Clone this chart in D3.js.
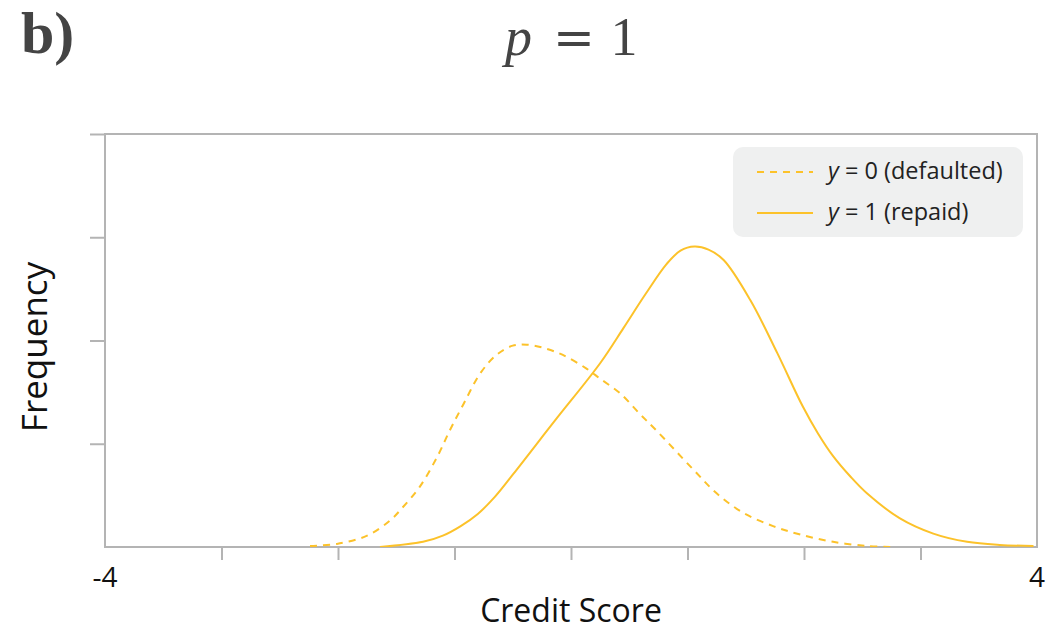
<!DOCTYPE html>
<html>
<head>
<meta charset="utf-8">
<script src="https://cdn.jsdelivr.net/npm/d3@7"></script>
<style>
  html, body { margin: 0; padding: 0; background: #fff; }
  svg { display: block; }
</style>
</head>
<body>
<svg id="chart" width="1048" height="633"></svg>
<script>
// Score densities for the two outcome groups (frequency in arbitrary units)
const defaultedScore = [-2.24, -2.01, -1.75, -1.55, -1.44, -1.30, -1.15, -1.04, -0.92, -0.78, -0.64, -0.50, -0.38, -0.24, -0.07, 0.13, 0.25, 0.42, 0.59, 0.74, 1.05, 1.25, 1.48, 1.74, 1.97, 2.25, 2.54, 2.74];
const defaultedFreq  = [0.01, 0.03, 0.11, 0.26, 0.39, 0.58, 0.87, 1.13, 1.39, 1.68, 1.86, 1.95, 1.96, 1.93, 1.86, 1.73, 1.63, 1.49, 1.29, 1.12, 0.75, 0.52, 0.33, 0.20, 0.12, 0.05, 0.01, 0.0];

const repaidScore = [-1.64, -1.27, -1.10, -0.95, -0.80, -0.65, -0.50, -0.30, -0.12, 0.25, 0.45, 0.64, 0.82, 0.94, 1.06, 1.18, 1.31, 1.54, 1.77, 1.99, 2.12, 2.25, 2.40, 2.54, 2.82, 3.11, 3.40, 3.68, 3.97];
const repaidFreq  = [0.0, 0.05, 0.11, 0.20, 0.32, 0.49, 0.70, 0.99, 1.25, 1.78, 2.12, 2.45, 2.74, 2.87, 2.91, 2.88, 2.78, 2.39, 1.88, 1.36, 1.10, 0.88, 0.68, 0.52, 0.28, 0.13, 0.05, 0.02, 0.01];

const xTicks = [-3, -2, -1, 0, 1, 2, 3];
const yTicks = [1, 2, 3, 4];
const xEndLabels = [-4, 4];

const series = [
  { label: "0", note: " (defaulted)", xs: defaultedScore, ys: defaultedFreq, dash: "7,6" },
  { label: "1", note: " (repaid)",    xs: repaidScore,    ys: repaidFreq,    dash: null }
];

const curveColor = "#fcc22a";
const axisColor = "#b4b4b4";

const svg = d3.select("#chart");
const plotLeft = 105, plotRight = 1037, plotTop = 134, plotBottom = 547;

const x = d3.scaleLinear().domain([-4, 4]).range([plotLeft, plotRight]);
const y = d3.scaleLinear().domain([0, 4]).range([plotBottom, plotTop]);

// Axis ticks (no labels) and the frame around the plot area
const xAxis = svg.append("g")
  .attr("transform", `translate(0,${plotBottom})`)
  .call(d3.axisBottom(x).tickValues(xTicks).tickSize(13).tickFormat(""));
const yAxis = svg.append("g")
  .attr("transform", `translate(${plotLeft},0)`)
  .call(d3.axisLeft(y).tickValues(yTicks).tickSize(15).tickFormat(""));
[xAxis, yAxis].forEach(g => {
  g.select(".domain").remove();
  g.selectAll(".tick line").attr("stroke", axisColor).attr("stroke-width", 2);
});

svg.append("rect")
  .attr("x", plotLeft).attr("y", plotTop)
  .attr("width", plotRight - plotLeft).attr("height", plotBottom - plotTop)
  .attr("fill", "none").attr("stroke", axisColor).attr("stroke-width", 2);

// Density curves, clipped so the tails never dip under the baseline
svg.append("clipPath").attr("id", "plot-clip")
  .append("rect")
  .attr("x", plotLeft).attr("y", plotTop)
  .attr("width", plotRight - plotLeft).attr("height", plotBottom - plotTop);

const line = d3.line()
  .x(d => x(d[0]))
  .y(d => y(d[1]))
  .curve(d3.curveCatmullRom.alpha(0.5));

series.forEach(s => {
  svg.append("path")
    .datum(d3.zip(s.xs, s.ys))
    .attr("d", line)
    .attr("clip-path", "url(#plot-clip)")
    .attr("fill", "none")
    .attr("stroke", curveColor)
    .attr("stroke-width", 2)
    .attr("stroke-dasharray", s.dash);
});

// End labels on the score axis
svg.selectAll("text.xend")
  .data(xEndLabels)
  .enter().append("text")
  .attr("class", "xend")
  .attr("x", d => x(d))
  .attr("y", 587)
  .attr("text-anchor", "middle")
  .attr("font-family", "'Open Sans', sans-serif")
  .attr("font-size", 28)
  .attr("fill", "#111")
  .text(d => d);

// Axis titles
svg.append("text")
  .attr("x", (plotLeft + plotRight) / 2)
  .attr("y", 622)
  .attr("text-anchor", "middle")
  .attr("font-family", "'Open Sans', sans-serif")
  .attr("font-size", 32)
  .attr("fill", "#111")
  .text("Credit Score");

svg.append("text")
  .attr("transform", "translate(47,347) rotate(-90)")
  .attr("text-anchor", "middle")
  .attr("font-family", "'Open Sans', sans-serif")
  .attr("font-size", 35)
  .attr("fill", "#111")
  .text("Frequency");

// Panel letter and title
svg.append("text")
  .attr("x", 21).attr("y", 53)
  .attr("font-family", "'Liberation Serif', serif")
  .attr("font-weight", "bold")
  .attr("font-size", 60)
  .attr("fill", "#444")
  .text("b)");

const title = svg.append("g")
  .attr("font-family", "'Liberation Serif', serif")
  .attr("font-size", 54)
  .attr("fill", "#444");
title.append("text").attr("x", 505).attr("y", 55).attr("font-style", "italic").text("p");
title.append("text").attr("x", 574).attr("y", 55).attr("text-anchor", "middle")
  .attr("font-family", "'DejaVu Serif', serif").attr("font-size", 50).text("=");
title.append("text").attr("x", 624).attr("y", 55).attr("text-anchor", "middle").text("1");

// Legend
const legend = svg.append("g");
legend.append("rect")
  .attr("x", 733).attr("y", 147)
  .attr("width", 290).attr("height", 90)
  .attr("rx", 10).attr("ry", 10)
  .attr("fill", "#eff0f0");

series.forEach((s, i) => {
  const cy = 172 + i * 41;
  legend.append("line")
    .attr("x1", 757).attr("x2", 813)
    .attr("y1", cy).attr("y2", cy)
    .attr("stroke", curveColor)
    .attr("stroke-width", 2)
    .attr("stroke-dasharray", s.dash);
  const t = legend.append("text")
    .attr("x", 828).attr("y", cy + 7)
    .attr("font-family", "'Open Sans', sans-serif")
    .attr("font-size", 23.5)
    .attr("fill", "#222");
  t.append("tspan").attr("font-style", "italic").text("y");
  t.append("tspan").text(" = " + s.label + s.note);
});
</script>
</body>
</html>
